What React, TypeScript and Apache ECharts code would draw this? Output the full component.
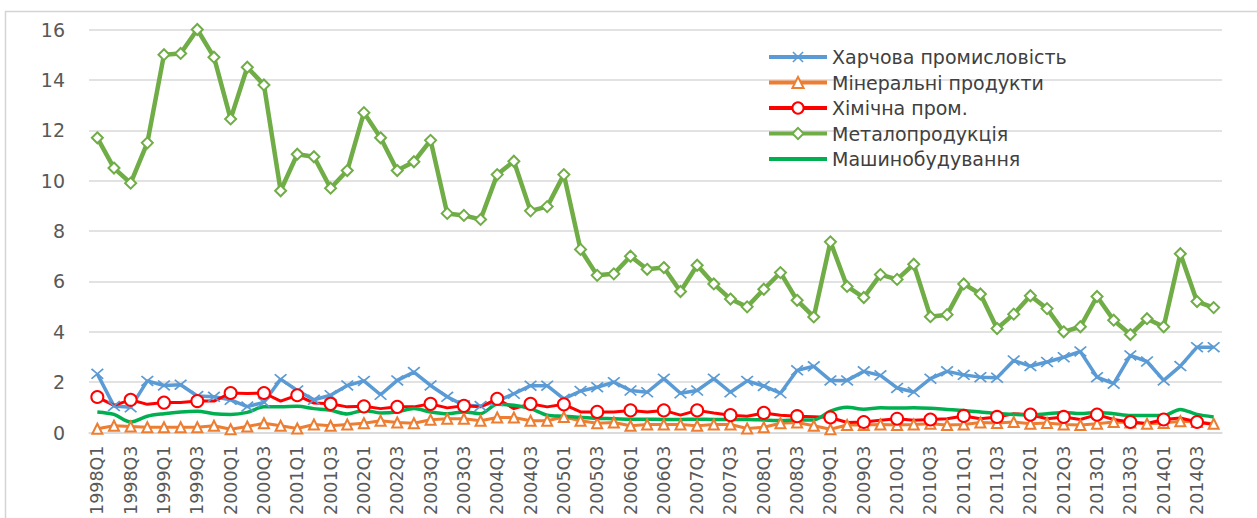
import React, { useEffect, useRef } from "react";
import * as echarts from "echarts";

const years = [1998, 1999, 2000, 2001, 2002, 2003, 2004, 2005, 2006, 2007, 2008, 2009, 2010, 2011, 2012, 2013, 2014];
const quarters = ["Q1", "Q2", "Q3", "Q4"];
const categories: string[] = [];
years.forEach((y) => quarters.forEach((q) => categories.push(`${y}${q}`)));

const foodName = "Харчова промисловість";
const mineralName = "Мінеральні продукти";
const chemName = "Хімічна пром.";
const metalName = "Металопродукція";
const machineName = "Машинобудування";

const food = [
  2.33, 1.05, 1.0, 2.05, 1.87, 1.9, 1.45, 1.42, 1.3, 1.03,
  1.2, 2.12, 1.67, 1.3, 1.48, 1.87, 2.05, 1.5, 2.07, 2.4,
  1.87, 1.42, 1.08, 1.05, 1.25, 1.54, 1.86, 1.86, 1.34, 1.65,
  1.8, 2.0, 1.67, 1.6, 2.14, 1.56, 1.67, 2.14, 1.6, 2.05,
  1.85, 1.56, 2.47, 2.63, 2.07, 2.07, 2.43, 2.27, 1.77, 1.61,
  2.14, 2.43, 2.29, 2.2, 2.18, 2.86, 2.64, 2.8, 2.99, 3.22,
  2.2, 1.94, 3.06, 2.82, 2.07, 2.64, 3.39, 3.39,
];

const mineral = [
  0.15, 0.27, 0.24, 0.21, 0.21, 0.21, 0.21, 0.27, 0.13, 0.24,
  0.37, 0.27, 0.16, 0.32, 0.27, 0.32, 0.37, 0.47, 0.4, 0.37,
  0.51, 0.55, 0.55, 0.47, 0.6, 0.6, 0.47, 0.47, 0.62, 0.47,
  0.37, 0.4, 0.27, 0.32, 0.32, 0.32, 0.27, 0.32, 0.32, 0.16,
  0.21, 0.37, 0.4, 0.27, 0.13, 0.3, 0.3, 0.32, 0.3, 0.32,
  0.35, 0.3, 0.32, 0.4, 0.38, 0.42, 0.35, 0.38, 0.32, 0.3,
  0.35, 0.42, 0.4, 0.35, 0.38, 0.45, 0.42, 0.35,
];

const chem = [
  1.41, 1.08, 1.3, 1.12, 1.19, 1.19, 1.25, 1.25, 1.57, 1.55,
  1.57, 1.25, 1.48, 1.17, 1.14, 1.02, 1.04, 0.95, 1.02, 1.02,
  1.14, 0.98, 1.06, 1.02, 1.34, 0.95, 1.14, 1.02, 1.12, 0.82,
  0.82, 0.82, 0.88, 0.82, 0.88, 0.69, 0.88, 0.78, 0.69, 0.65,
  0.78, 0.69, 0.65, 0.63, 0.6, 0.4, 0.42, 0.49, 0.55, 0.49,
  0.52, 0.55, 0.66, 0.55, 0.62, 0.75, 0.71, 0.55, 0.62, 0.52,
  0.71, 0.52, 0.42, 0.36, 0.52, 0.58, 0.42, 0.32,
];

const metal = [
  11.7, 10.5, 9.9, 11.5, 15.0, 15.05, 16.0, 14.9, 12.45, 14.5,
  13.8, 9.6, 11.05, 10.95, 9.7, 10.4, 12.7, 11.7, 10.4, 10.75,
  11.6, 8.7, 8.62, 8.46, 10.24, 10.77, 8.8, 8.97, 10.24, 7.27,
  6.24, 6.3, 7.0, 6.48, 6.55, 5.6, 6.64, 5.9, 5.3, 4.99,
  5.69, 6.35, 5.25, 4.59, 7.57, 5.8, 5.36, 6.27, 6.08, 6.68,
  4.6, 4.68, 5.9, 5.5, 4.13, 4.7, 5.43, 4.92, 4.0, 4.2,
  5.4, 4.46, 3.89, 4.52, 4.2, 7.1, 5.2, 4.96,
];

const machine = [
  0.82, 0.72, 0.42, 0.65, 0.75, 0.82, 0.85, 0.75, 0.72, 0.8,
  1.02, 1.02, 1.04, 0.95, 0.88, 0.74, 0.88, 0.78, 0.82, 0.95,
  0.82, 0.75, 0.82, 0.75, 1.12, 1.08, 0.95, 0.69, 0.65, 0.6,
  0.56, 0.55, 0.53, 0.53, 0.52, 0.52, 0.53, 0.52, 0.52, 0.52,
  0.5, 0.48, 0.5, 0.5, 0.85, 1.0, 0.93, 0.98, 0.97, 0.98,
  0.96, 0.92, 0.88, 0.82, 0.76, 0.72, 0.7, 0.75, 0.8, 0.76,
  0.8, 0.75, 0.68, 0.68, 0.68, 0.92, 0.72, 0.62,
];

const yTicks = { min: 0, max: 16, interval: 2 };

const FONT = "DejaVu Sans";
const LEGEND_FS = 19;
const crossPath =
  "path://M1,0L5,4L9,0L10,1L6,5L10,9L9,10L5,6L1,10L0,9L4,5L0,1Z";

export default function App() {
  const ref = useRef<HTMLDivElement>(null);
  useEffect(() => {
    if (!ref.current) return;
    const chart = echarts.init(ref.current, null, { renderer: "svg" });
    chart.setOption({
      animation: false,
      backgroundColor: "#ffffff",
      graphic: [
        {
          type: "rect",
          shape: { x: 5.5, y: 11.5, width: 1300, height: 600 },
          style: { fill: "none", stroke: "#d4d4d4", lineWidth: 1.5 },
          silent: true,
          z: -10,
        },
      ],
      grid: { left: 89, right: 35, top: 29.5, bottom: 84 },
      legend: {
        orient: "vertical",
        left: 767,
        top: 57 - LEGEND_FS / 2,
        padding: 0,
        itemWidth: 58,
        itemHeight: 14,
        itemGap: 25.5 - LEGEND_FS,
        lineStyle: { width: 4 },
        textStyle: {
          fontFamily: FONT,
          fontSize: LEGEND_FS,
          color: "#404040",
          lineHeight: LEGEND_FS,
        },
        data: [
          foodName,
          mineralName,
          chemName,
          metalName,
          { name: machineName, itemStyle: { opacity: 0 } },
        ],
      },
      xAxis: {
        type: "category",
        data: categories,
        boundaryGap: true,
        axisTick: { show: false },
        axisLine: { lineStyle: { color: "#d9d9d9", width: 1.5 } },
        axisLabel: {
          interval: 1,
          rotate: 90,
          margin: 13,
          fontFamily: FONT,
          fontSize: 17.5,
          color: "#595959",
        },
      },
      yAxis: {
        type: "value",
        min: yTicks.min,
        max: yTicks.max,
        interval: yTicks.interval,
        axisLine: { show: false },
        axisTick: { show: false },
        axisLabel: { margin: 24, fontFamily: FONT, fontSize: 19, color: "#595959" },
        splitLine: { lineStyle: { color: "#d9d9d9", width: 1.5 } },
      },
      series: [
        {
          name: foodName,
          type: "line",
          data: food,
          symbol: crossPath,
          symbolSize: [13, 11],
          lineStyle: { color: "#5B9BD5", width: 3.5 },
          itemStyle: { color: "#5B9BD5" },
        },
        {
          name: mineralName,
          type: "line",
          data: mineral,
          symbol: "emptyTriangle",
          symbolSize: 10,
          lineStyle: { color: "#ED7D31", width: 3 },
          itemStyle: { color: "#ED7D31", borderWidth: 1.5 },
        },
        {
          name: chemName,
          type: "line",
          data: chem,
          symbol: "emptyCircle",
          symbolSize: 12,
          lineStyle: { color: "#FF0000", width: 3 },
          itemStyle: { color: "#FF0000", borderWidth: 2 },
        },
        {
          name: metalName,
          type: "line",
          data: metal,
          symbol: "emptyDiamond",
          symbolSize: 11,
          lineStyle: { color: "#70AD47", width: 4.5 },
          itemStyle: { color: "#70AD47", borderWidth: 2 },
        },
        {
          name: machineName,
          type: "line",
          data: machine,
          symbol: "none",
          smooth: 0.3,
          lineStyle: { color: "#00B050", width: 3.5 },
          itemStyle: { color: "#00B050" },
        },
      ],
    });
    return () => chart.dispose();
  }, []);
  return (
    <div
      ref={ref}
      style={{ position: "absolute", left: 0, top: 0, width: 1257, height: 518 }}
    />
  );
}
